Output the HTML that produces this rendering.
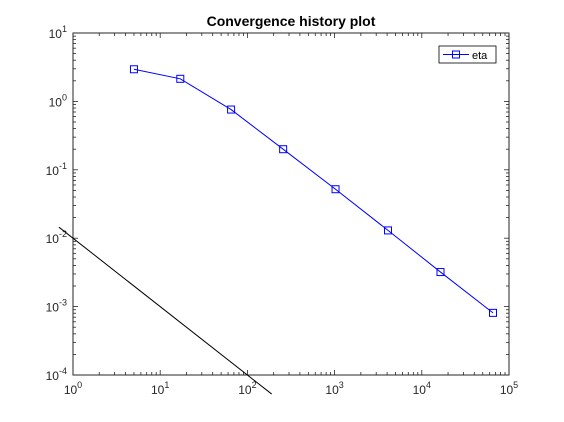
<!DOCTYPE html>
<html><head><meta charset="utf-8"><style>
body{margin:0;background:#fff;}
svg{display:block;font-family:"Liberation Sans",Arial,sans-serif;}
</style></head><body>
<svg id="chart" width="564" height="422" viewBox="0 0 564 422">
<rect width="564" height="422" fill="#fff"/>
<text x="291" y="26" text-anchor="middle" font-size="14" font-weight="bold">Convergence history plot</text>
<g id="axes"></g>
<g id="series"></g>
<g>
<rect x="439" y="46" width="57" height="17" fill="#fff" stroke="#000" stroke-width="0.8"/>
<line x1="443" y1="54.5" x2="469" y2="54.5" stroke="#0000ff" stroke-width="1"/>
<rect x="452.5" y="51" width="7" height="7" fill="none" stroke="#0000ff" stroke-width="1"/>
<text x="472" y="59" font-size="11">eta</text>
</g>
</svg>
<script>
const xTickExps=[0,1,2,3,4,5];
const yTickExps=[-4,-3,-2,-1,0,1];
const etaX=[5,17,65,257,1025,4097,16385,65537];
const etaY=[2.95,2.14,0.76,0.20,0.052,0.013,0.0032,0.00081];
const refX=[0.69,190];
const refC=0.01;
const L=73,R=509,T=33,B=375;
const xMin=0,xMax=5,yMin=-4,yMax=1;
const sx=v=>L+(Math.log10(v)-xMin)/(xMax-xMin)*(R-L);
const sy=v=>B-(Math.log10(v)-yMin)/(yMax-yMin)*(B-T);
const NS="http://www.w3.org/2000/svg";
const ax=document.getElementById('axes'), se=document.getElementById('series');
function mk(tag,attrs,parent){const e=document.createElementNS(NS,tag);for(const k in attrs)e.setAttribute(k,attrs[k]);parent.appendChild(e);return e;}
const box=mk('rect',{x:L,y:T,width:R-L,height:B-T,fill:'#fff',stroke:'#262626','stroke-width':1},ax);


for(let d=xMin;d<=xMax;d++){
  for(let m=1;m<=9;m++){
    if(d===xMax&&m>1)break;
    const x=sx(m*Math.pow(10,d)); const len=m===1?5:3;
    mk('line',{x1:x,y1:B,x2:x,y2:B-len,stroke:'#262626','stroke-width':0.8},ax);
    mk('line',{x1:x,y1:T,x2:x,y2:T+len,stroke:'#262626','stroke-width':0.8},ax);
  }
}
xTickExps.forEach(e=>{
  const x=sx(Math.pow(10,e));
  const t=mk('text',{x:x,y:B+19,'text-anchor':'middle','font-size':12,fill:'#262626'},ax);
  
  
  t.innerHTML='10<tspan dy="-6" font-size="9">'+e+'</tspan>';
});
for(let d=yMin;d<=yMax;d++){
  for(let m=1;m<=9;m++){
    if(d===yMax&&m>1)break;
    const y=sy(m*Math.pow(10,d)); const len=m===1?5:3;
    mk('line',{x1:L,y1:y,x2:L+len,y2:y,stroke:'#262626','stroke-width':0.8},ax);
    mk('line',{x1:R,y1:y,x2:R-len,y2:y,stroke:'#262626','stroke-width':0.8},ax);
  }
}
yTickExps.forEach(e=>{
  const y=sy(Math.pow(10,e));
  const t=mk('text',{x:L-6,y:y+5,'text-anchor':'end','font-size':12,fill:'#262626'},ax);
  
  
  t.innerHTML='10<tspan dy="-6" font-size="9">'+e+'</tspan>';
});
const rl=mk('line',{x1:sx(refX[0]),y1:sy(refC/refX[0]),x2:sx(refX[1]),y2:sy(refC/refX[1]),stroke:'#000','stroke-width':1},se);


const pts=etaX.map((v,i)=>sx(v)+','+sy(etaY[i])).join(' ');
const pl=mk('polyline',{points:pts,fill:'none',stroke:'#0000ff','stroke-width':1},se);


etaX.forEach((v,i)=>{
  const m=mk('rect',{x:sx(v)-3.5,y:sy(etaY[i])-3.5,width:7,height:7,fill:'none',stroke:'#0000ff','stroke-width':1},se);
  
  
});
</script>
</body></html>
